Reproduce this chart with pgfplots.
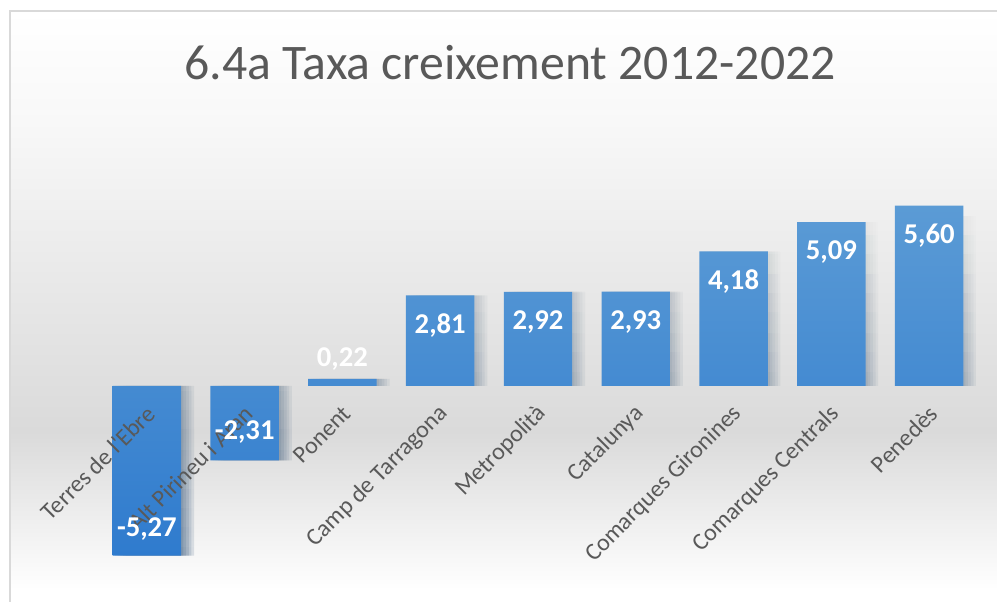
\documentclass[border=0pt]{standalone}
\usepackage{pgfplots}
\pgfplotsset{compat=1.18}
\usepackage{pgfplotstable}
\usetikzlibrary{fadings}
\usepackage{fontspec}
\setmainfont{Carlito}
\definecolor{txt}{HTML}{595959}
\definecolor{bartop}{HTML}{5B9BD5}
\definecolor{barbot}{HTML}{2F7BCE}
\definecolor{bgmid}{HTML}{DADADA}
\definecolor{bgtop}{HTML}{F8F8F8}
\definecolor{framec}{HTML}{D9D9D9}
\tikzfading[name=shfade, top color=transparent!100, middle color=transparent!100, bottom color=transparent!0]

\pgfplotstableread{
x y lab off
0 -5.27 {-5,27} 27
1 -2.31 {-2,31} 28
2 0.22 {0,22} 20
3 2.81 {2,81} -30
4 2.92 {2,92} -30
5 2.93 {2,93} -30
6 4.18 {4,18} -30
7 5.09 {5,09} -30
8 5.60 {5,60} -30
}\datatable

\tikzset{shd/.style={preaction={fill=black, fill opacity=0.07, path fading=shfade, transform canvas={xshift=#1}}}}

\begin{document}
\begin{tikzpicture}[x=0.75pt,y=0.75pt]
\useasboundingbox (0,0) rectangle (997,602);
\fill[white] (0,0) rectangle (997,602);
\shade[top color=white, bottom color=bgtop] (10,480) rectangle (997,591);
\shade[top color=bgtop, bottom color=bgmid] (10,170) rectangle (997,480.2);
\shade[top color=bgmid, bottom color=white] (10,12) rectangle (997,170.2);
\draw[framec, line width=1.5pt] (10,0) -- (10,591) -- (997,591);
\node[txt, font=\fontsize{37.3}{40}\selectfont] at (510,539) {6.4a Taxa creixement 2012-2022};
\begin{axis}[
  at={(73.5pt,17.1pt)}, anchor=south west,
  width=660pt, height=301.9pt, scale only axis,
  xmin=-0.5, xmax=8.5, ymin=-6, ymax=6.5,
  axis line style={draw=none},
  axis on top,
  xtick={0,...,8}, ytick=\empty,
  major tick length=0pt, tick style={draw=none},
  xtick pos=bottom,
  xticklabels={Terres de l\textquotesingle Ebre, Alt Pirineu i Aran, Ponent, Camp de Tarragona, Metropolità, Catalunya, Comarques Gironines, Comarques Centrals, Penedès},
  xticklabel style={txt, font=\fontsize{18}{18}\selectfont, xshift=3.25pt, yshift=127pt, rotate=45, anchor=east, inner sep=0pt},
  clip=false,
]
\addplot[ybar, bar width=0.7, draw=none, top color=bartop, bottom color=barbot,
  shd=2pt, shd=4pt, shd=6pt, shd=8pt, shd=10pt,
  nodes near coords, point meta=explicit symbolic,
  visualization depends on={\thisrow{off} \as \off},
  every node near coord/.append style={anchor=center, yshift=\off*0.75pt, text=white, font=\bfseries\fontsize{21.5}{21.5}\selectfont}]
  table[x=x, y=y, meta=lab] {\datatable};
\end{axis}
\end{tikzpicture}
\end{document}
